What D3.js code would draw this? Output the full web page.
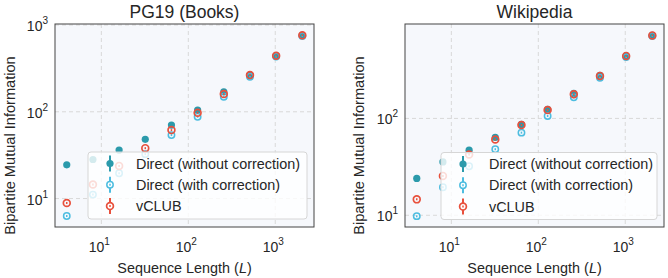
<!DOCTYPE html>
<html>
<head>
<meta charset="utf-8">
<script src="https://cdn.jsdelivr.net/npm/d3@7"></script>
<style>
  body { margin: 0; background: #fff; }
  text { font-family: "Liberation Sans", Arial, sans-serif; fill: #262626; }
</style>
</head>
<body>
<div id="chart"></div>
<script>
// sequence lengths
var lengths = [4, 8, 16, 32, 64, 128, 256, 512, 1024, 2048];

// PG19 (Books)
var pgDirect = [24.5, 28.2, 36.2, 48.1, 70.3, 104.6, 170, 265, 443, 761];
var pgCorrected = [6.3, 11.1, 19.6, 32.5, 53.9, 87.6, 149, 253, 434, 747];
var pgClub = [8.9, 14.5, 23.8, 38.1, 61.5, 97.4, 160, 265, 443, 761];

// Wikipedia
var wikiDirect = [24.0, 35.6, 47.0, 63.6, 86.7, 124, 181, 278, 444, 722];
var wikiCorrected = [9.8, 19.5, 32.1, 48.1, 71.3, 106, 165, 263, 430, 710];
var wikiClub = [14.6, 25.5, 42.4, 60.6, 85.5, 122, 178, 275, 442, 720];

var titles = ['PG19 (Books)', 'Wikipedia'];
var legendNames = ['Direct (without correction)', 'Direct (with correction)', 'vCLUB'];
var xTicks = [10, 100, 1000];
var yTicksLeft = [10, 100, 1000];
var yTicksRight = [10, 100];

var colDirect = '#2b9aab';
var colCorrected = '#4dbde0';
var colClub = '#e8503c';

var W = 668, H = 278;
var svg = d3.select('#chart').append('svg').attr('width', W).attr('height', H);

var panels = [
  { title: titles[0], left: 55, right: 314, yDomain: [4.7, 1028], yTicks: yTicksLeft,
    series: [pgDirect, pgCorrected, pgClub], legend: { x: 88, y: 152, w: 219, h: 67 }, ylabX: 15 },
  { title: titles[1], left: 405, right: 664, yDomain: [7.57, 944], yTicks: yTicksRight,
    series: [wikiDirect, wikiCorrected, wikiClub], legend: { x: 441, y: 152.5, w: 216, h: 67 }, ylabX: 364 }
];

var plotTop = 24, plotBottom = 227;

function powLabel(sel, v) {
  var e = Math.round(Math.log10(v));
  sel.append('tspan').text('10');
  sel.append('tspan').attr('dy', -7).attr('font-size', 10).text(e);
}

panels.forEach(function(p) {
  var x = d3.scaleLog().domain([2.93, 2790]).range([p.left, p.right]);
  var y = d3.scaleLog().domain(p.yDomain).range([plotBottom, plotTop]);
  var g = svg.append('g');

  // plot background
  g.append('rect')
    .attr('x', p.left).attr('y', plotTop)
    .attr('width', p.right - p.left).attr('height', plotBottom - plotTop)
    .attr('fill', '#f6f8fc');

  // grid
  g.selectAll('.xgrid').data(xTicks).enter().append('line')
    .attr('x1', d => x(d)).attr('x2', d => x(d))
    .attr('y1', plotTop).attr('y2', plotBottom)
    .attr('stroke', '#d9d9d9').attr('stroke-width', 1).attr('stroke-dasharray', '4,3');
  g.selectAll('.ygrid').data(p.yTicks).enter().append('line')
    .attr('x1', p.left).attr('x2', p.right)
    .attr('y1', d => y(d)).attr('y2', d => y(d))
    .attr('stroke', '#d9d9d9').attr('stroke-width', 1).attr('stroke-dasharray', '4,3');

  // points: direct filled, then corrected, then vCLUB hollow
  var styles = [
    { fill: colDirect, stroke: 'none', r: 3.6, sw: 0 },
    { fill: 'none', stroke: colCorrected, r: 3.2, sw: 1.5 },
    { fill: 'none', stroke: colClub, r: 3.4, sw: 1.7 }
  ];
  p.series.forEach(function(vals, si) {
    var st = styles[si];
    var pts = g.append('g');
    pts.selectAll('circle').data(vals).enter().append('circle')
      .attr('cx', (d, i) => x(lengths[i]))
      .attr('cy', d => y(d))
      .attr('r', st.r)
      .attr('fill', st.fill)
      .attr('stroke', st.stroke)
      .attr('stroke-width', st.sw);
    if (si > 0) {
      pts.selectAll('line').data(vals).enter().append('line')
        .attr('x1', (d, i) => x(lengths[i])).attr('x2', (d, i) => x(lengths[i]))
        .attr('y1', d => y(d) - 1).attr('y2', d => y(d) + 1)
        .attr('stroke', st.stroke).attr('stroke-width', 1.5);
    }
  });

  // frame
  g.append('rect')
    .attr('x', p.left).attr('y', plotTop)
    .attr('width', p.right - p.left).attr('height', plotBottom - plotTop)
    .attr('fill', 'none').attr('stroke', '#444').attr('stroke-width', 1);

  // x tick labels
  xTicks.forEach(function(t) {
    var tx = g.append('text').attr('x', x(t) - 2).attr('y', 252)
      .attr('text-anchor', 'middle').attr('font-size', 14);
    powLabel(tx, t);
  });
  // y tick labels
  p.yTicks.forEach(function(t) {
    var ty = g.append('text').attr('x', p.left - 7).attr('y', y(t) + 6)
      .attr('text-anchor', 'end').attr('font-size', 14);
    powLabel(ty, t);
  });

  // title
  g.append('text').attr('x', (p.left + p.right) / 2).attr('y', 18)
    .attr('text-anchor', 'middle').attr('font-size', 17.5).text(p.title);

  // x label
  var xl = g.append('text').attr('x', (p.left + p.right) / 2).attr('y', 273)
    .attr('text-anchor', 'middle').attr('font-size', 14.4);
  xl.append('tspan').text('Sequence Length (');
  xl.append('tspan').attr('font-style', 'italic').text('L');
  xl.append('tspan').text(')');

  // y label
  g.append('text')
    .attr('transform', 'translate(' + p.ylabX + ',' + ((plotTop + plotBottom) / 2 + 20) + ') rotate(-90)')
    .attr('text-anchor', 'middle').attr('font-size', 14.6)
    .text('Bipartite Mutual Information');

  // legend
  var L = p.legend;
  g.append('rect')
    .attr('x', L.x).attr('y', L.y).attr('width', L.w).attr('height', L.h)
    .attr('rx', 3).attr('fill', 'rgba(255,255,255,0.8)')
    .attr('stroke', '#d6d6d6').attr('stroke-width', 1);
  legendNames.forEach(function(name, i) {
    var cy = L.y + 11.5 + i * 21.3;
    var hx = L.x + 22;
    var col = [colDirect, colCorrected, colClub][i];
    g.append('line').attr('x1', hx).attr('x2', hx)
      .attr('y1', cy - 8).attr('y2', cy + 8)
      .attr('stroke', col).attr('stroke-width', 2);
    var st = styles[i];
    g.append('circle').attr('cx', hx).attr('cy', cy).attr('r', st.r)
      .attr('fill', i === 0 ? colDirect : '#fff')
      .attr('stroke', st.stroke).attr('stroke-width', st.sw);
    if (i > 0) {
      g.append('line').attr('x1', hx).attr('x2', hx)
        .attr('y1', cy - 1).attr('y2', cy + 1)
        .attr('stroke', col).attr('stroke-width', 1.5);
    }
    g.append('text').attr('x', L.x + 48).attr('y', cy + 5)
      .attr('font-size', 14.4).text(name);
  });
});
</script>
</body>
</html>
